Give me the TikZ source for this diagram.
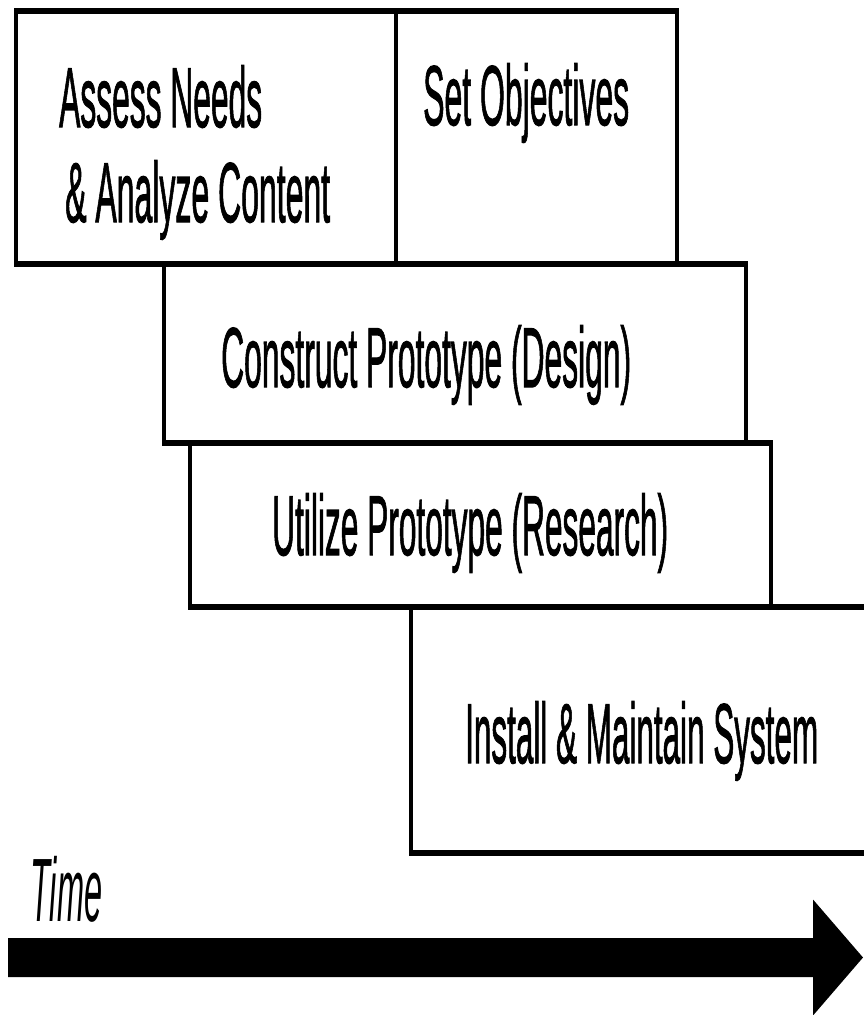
\documentclass[tikz,border=0pt]{standalone}
\usepackage{fontspec}
\setmainfont[FakeBold=1.6]{Liberation Sans}
\newfontfamily\timefont{Liberation Sans}
\usepackage{graphicx}
% set a text at a given width, keeping its natural height (condensed look)
\newcommand{\fitw}[2]{\resizebox{#1pt}{\height}{#2}}

\begin{document}
\begin{tikzpicture}[x=1pt,y=-1pt,
  hline/.style={line width=6.5pt},
  vline/.style={line width=3.5pt},
  lbl/.style={inner sep=0pt, anchor=base west, font=\fontsize{85}{95}\selectfont},
  timelbl/.style={inner sep=0pt, anchor=base west, font=\timefont\fontsize{90}{100}\selectfont\itshape}]
\useasboundingbox (0,0) rectangle (864,1015);

% vertical edges of the phase boxes
\draw[vline] (16,11) -- (16,264);
\draw[vline] (396,11) -- (396,264);
\draw[vline] (677,11) -- (677,264);
\draw[vline] (164,264) -- (164,443);
\draw[vline] (746,264) -- (746,443);
\draw[vline] (190,443) -- (190,607);
\draw[vline] (771,443) -- (771,607);
\draw[vline] (411,607) -- (411,853);

% horizontal edges (heavier)
\draw[hline] (14.25,11) -- (678.75,11);
\draw[hline] (14.25,264) -- (747.75,264);
\draw[hline] (162.25,443) -- (772.75,443);
\draw[hline] (188.25,607) -- (864,607);
\draw[hline] (409.25,853) -- (864,853);

% phase labels
\node[lbl] (assess1) at (59,127) {\fitw{203}{Assess Needs}};
\node[lbl] (assess2) at (65,222) {\fitw{265}{\& Analyze Content}};
\node[lbl] (objectives) at (423,125) {\fitw{206}{Set Objectives}};
\node[lbl] (construct) at (221,387) {\fitw{410}{Construct Prototype (Design)}};
\node[lbl] (utilize) at (272,555) {\fitw{396}{Utilize Prototype (Research)}};
\node[lbl] (install) at (465,763) {\fitw{353}{Install \& Maintain System}};

% time axis
\node[timelbl] (time) at (30,921) {\fitw{72}{Time}};
\fill (8,938) -- (813,938) -- (813,899.5) -- (863,957.5) -- (813,1015.5)
      -- (813,977) -- (8,977) -- cycle;
\end{tikzpicture}
\end{document}
